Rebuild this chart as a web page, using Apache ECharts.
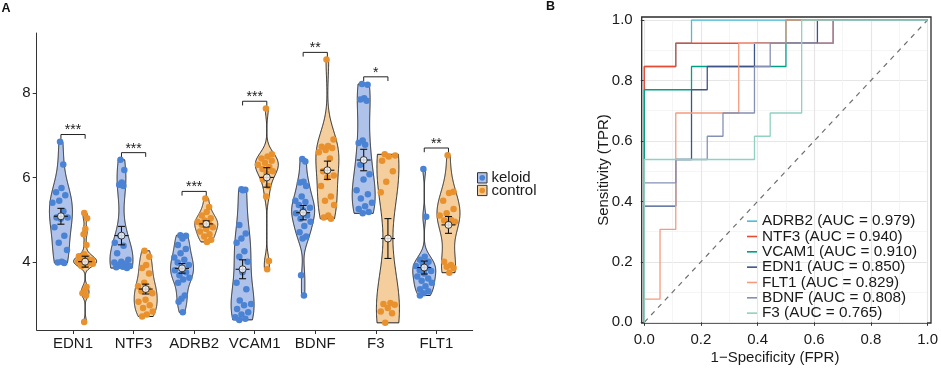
<!DOCTYPE html>
<html><head><meta charset="utf-8">
<script src="https://cdn.jsdelivr.net/npm/echarts@6/dist/echarts.min.js"></script>
<style>html,body{margin:0;padding:0;background:#fff}#c{width:941px;height:369px}</style>
</head><body><div id="c"></div>
<script>
// ---------------- DATA (panel A) ----------------
const genes = ['EDN1','NTF3','ADRB2','VCAM1','BDNF','F3','FLT1'];
const groups = ['keloid','control'];
const yTicksA = [4, 6, 8];
const keloidEDN1 = [6.85, 6.31, 5.75, 5.65, 5.58, 5.45, 5.4, 5.2, 5.05, 5.05, 5.02, 4.82, 4.62, 4.45, 4.28, 4.0, 3.98, 3.97];
const controlEDN1 = [5.16, 5.03, 4.78, 4.65, 4.4, 4.18, 4.13, 4.1, 4.07, 4.04, 4.02, 4.0, 3.99, 3.97, 3.95, 3.93, 3.9, 3.4, 3.32, 3.25, 3.2, 2.57];
const keloidNTF3 = [6.42, 6.18, 5.88, 5.83, 5.8, 4.62, 4.45, 4.38, 4.2, 4.05, 4.0, 3.98, 3.95, 3.93, 3.9, 3.88, 3.87, 3.85];
const controlNTF3 = [4.26, 4.12, 3.92, 3.85, 3.72, 3.5, 3.42, 3.35, 3.3, 3.25, 3.1, 3.05, 2.97, 2.9, 2.82, 2.75, 2.7];
const keloidADRB2 = [4.63, 4.62, 4.55, 4.4, 4.3, 4.2, 4.1, 4.05, 3.98, 3.92, 3.85, 3.8, 3.75, 3.68, 3.62, 3.58, 3.5, 3.2, 3.12, 3.05, 2.8];
const controlADRB2 = [5.5, 5.3, 5.18, 5.1, 5.03, 4.98, 4.95, 4.9, 4.88, 4.82, 4.78, 4.72, 4.65, 4.6, 4.52, 4.47];
const keloidVCAM1 = [5.72, 5.71, 5.7, 4.87, 4.67, 4.55, 4.45, 4.25, 4.12, 4.0, 3.75, 3.5, 3.35, 3.08, 3.0, 2.97, 2.88, 2.8, 2.75, 2.68, 2.65, 2.62];
const controlVCAM1 = [7.64, 6.55, 6.5, 6.45, 6.4, 6.35, 6.3, 6.25, 6.2, 6.15, 6.1, 5.95, 5.8, 5.55, 4.02, 3.82];
const keloidBDNF = [6.44, 6.38, 5.9, 5.88, 5.8, 5.55, 5.45, 5.42, 5.35, 5.28, 5.22, 5.15, 5.1, 5.02, 4.95, 4.85, 4.7, 4.6, 4.55, 3.68, 3.2];
const controlBDNF = [8.8, 6.9, 6.75, 6.73, 6.7, 6.65, 6.6, 6.45, 6.15, 6.05, 6.0, 5.8, 5.55, 5.45, 5.35, 5.1, 5.05, 5.02];
const keloidF3 = [8.22, 8.2, 7.88, 7.85, 7.82, 6.88, 6.82, 6.78, 6.3, 6.08, 5.95, 5.7, 5.6, 5.5, 5.4, 5.32, 5.25, 5.18, 5.15];
const controlF3 = [6.55, 6.52, 6.5, 6.4, 6.15, 5.9, 5.65, 3.02, 3.0, 2.98, 2.9, 2.82, 2.78, 2.55];
const keloidFLT1 = [6.2, 5.07, 4.12, 4.05, 4.0, 3.95, 3.9, 3.85, 3.8, 3.78, 3.72, 3.65, 3.6, 3.55, 3.5, 3.42, 3.35, 3.3, 3.25, 3.2];
const controlFLT1 = [6.53, 5.66, 5.63, 5.45, 5.25, 5.15, 5.1, 5.0, 4.98, 4.95, 4.9, 4.0, 3.92, 3.88, 3.85, 3.74];
const sigLabels = ['***','***','***','***','**','*','**'];

// ---------------- DATA (panel B) ----------------
const rocNames = ['ADRB2','NTF3','VCAM1','EDN1','FLT1','BDNF','F3'];
const aucLabels = ['0.979','0.940','0.910','0.850','0.829','0.808','0.765'];
const nNeg = 18, nPos = 13;
const fprADRB2 = [0,0,2,2,3,3,18];            const tprADRB2 = [0,11,11,12,12,13,13];
const fprNTF3  = [0,0,2,2,12,12,18];          const tprNTF3  = [0,11,11,12,12,13,13];
const fprVCAM1 = [0,0,3,3,9,9,18];            const tprVCAM1 = [0,10,10,11,11,13,13];
const fprEDN1  = [0,0,2,2,3,3,4,4,7,7,11,11,18]; const tprEDN1 = [0,5,5,7,7,10,10,11,11,12,12,13,13];
const fprFLT1  = [0,0,1,1,2,2,6,6,9,9,18];    const tprFLT1  = [0,1,1,4,4,9,9,12,12,13,13];
const fprBDNF  = [0,0,2,2,4,4,5,5,7,7,8,8,12,12,18]; const tprBDNF = [0,6,6,7,7,8,8,9,9,11,11,12,12,13,13];
const fprF3    = [0,0,7,7,8,8,10,10,18];      const tprF3    = [0,7,7,8,8,9,9,13,13];

// ---------------- build ----------------
const keloidData = [keloidEDN1, keloidNTF3, keloidADRB2, keloidVCAM1, keloidBDNF, keloidF3, keloidFLT1];
const controlData = [controlEDN1, controlNTF3, controlADRB2, controlVCAM1, controlBDNF, controlF3, controlFLT1];
const allData = [keloidData, controlData];
const rocFPR = [fprADRB2, fprNTF3, fprVCAM1, fprEDN1, fprFLT1, fprBDNF, fprF3];
const rocTPR = [tprADRB2, tprNTF3, tprVCAM1, tprEDN1, tprFLT1, tprBDNF, tprF3];
const rocColors = ['#4DBBD5','#E64B35','#00A087','#3C5488','#F39B7F','#8491B4','#91D1C2'];

const ptColors = ['#4A82D4', '#E8912D'];
const fillColors = ['#AFC2EA', '#F5CE9E'];
const DODGE = 0.2, W = 0.19;

function quant(s, p){ const h=(s.length-1)*p, lo=Math.floor(h), hi=Math.min(lo+1,s.length-1); return s[lo]+(h-lo)*(s[hi]-s[lo]); }
function meanOf(a){ return a.reduce((x,y)=>x+y,0)/a.length; }
function sdOf(a){ const m=meanOf(a); return Math.sqrt(a.reduce((x,y)=>x+(y-m)*(y-m),0)/(a.length-1)); }
function bwNrd0(s){ const sd=sdOf(s), iqr=quant(s,0.75)-quant(s,0.25); let lo=Math.min(sd, iqr/1.34); if(!(lo>0)) lo = sd || 1; return 0.9*lo*Math.pow(s.length,-0.2); }
function profileOf(vals){
  const s=[...vals].sort((a,b)=>a-b), bw=bwNrd0(s), lo=s[0], hi=s[s.length-1], N=200;
  const out=[]; let mx=0;
  for(let k=0;k<=N;k++){ const y=lo+(hi-lo)*k/N; let d=0; for(const v of s){ const z=(y-v)/bw; d+=Math.exp(-0.5*z*z);} out.push([y,d]); if(d>mx) mx=d; }
  out.forEach(p=>p[1]/=mx); return out;
}
function densAt(prof, y){
  let best=prof[0][1], bd=1e9; for(const p of prof){ const dd=Math.abs(p[0]-y); if(dd<bd){bd=dd;best=p[1];} } return best;
}
const profiles = allData.map(g => g.map(profileOf));

const violinItems = [], errItems = [], meanPts = [[],[]], scatterPts = [[],[]];
for (let ci=0; ci<2; ci++) for (let gi=0; gi<genes.length; gi++) {
  const vals = allData[ci][gi], xc = gi+1+(ci===0?-DODGE:DODGE);
  const m = meanOf(vals), se = sdOf(vals)/Math.sqrt(vals.length);
  violinItems.push([xc, m, ci, gi]);
  errItems.push([xc, m, se]);
  meanPts[ci].push([xc, m]);
  vals.forEach((v,i)=>{ const j=((i*0.618034+0.31)%1)*2-1; scatterPts[ci].push([xc + j*0.8*W*Math.max(0.25,densAt(profiles[ci][gi], v)), v]); });
}
const bracketItems = genes.map((g,gi)=>[gi+1, Math.max(...keloidData[gi], ...controlData[gi]) + 0.17, gi]);

const chart = echarts.init(document.getElementById('c'), null, {renderer:'canvas'});
const FONT = 'Liberation Sans, Arial, sans-serif';
const TXT = '#1a1a1a';

const series = [];
series.push({
  type:'custom', xAxisIndex:0, yAxisIndex:0, z:2, data: violinItems,
  renderItem(params, api){
    const xc=api.value(0), ci=api.value(2), gi=api.value(3), prof=profiles[ci][gi];
    const pts=[];
    for(const [y,d] of prof) pts.push(api.coord([xc+d*W, y]));
    for(let k=prof.length-1;k>=0;k--) pts.push(api.coord([xc-prof[k][1]*W, prof[k][0]]));
    return {type:'polygon', shape:{points:pts}, style:{fill:fillColors[ci], stroke:'#222', lineWidth:1}};
  }
});
for (let ci=0; ci<2; ci++) series.push({
  type:'scatter', name: groups[ci], xAxisIndex:0, yAxisIndex:0, z:3, data: scatterPts[ci],
  symbolSize: 6.5, itemStyle:{color: ptColors[ci], opacity:1}, silent:true
});
series.push({
  type:'custom', xAxisIndex:0, yAxisIndex:0, z:4, data: errItems,
  renderItem(params, api){
    const xc=api.value(0), m=api.value(1), se=api.value(2);
    const top=api.coord([xc, m+se]), bot=api.coord([xc, m-se]), mid=api.coord([xc, m]);
    const st={stroke:'#111', lineWidth:1.1};
    return {type:'group', children:[
      {type:'line', shape:{x1:top[0],y1:top[1],x2:bot[0],y2:bot[1]}, style:st},
      {type:'line', shape:{x1:top[0]-3.5,y1:top[1],x2:top[0]+3.5,y2:top[1]}, style:st},
      {type:'line', shape:{x1:bot[0]-3.5,y1:bot[1],x2:bot[0]+3.5,y2:bot[1]}, style:st},
      {type:'line', shape:{x1:mid[0]-7,y1:mid[1],x2:mid[0]+7,y2:mid[1]}, style:st}
    ]};
  }
});
for (let ci=0; ci<2; ci++) series.push({
  type:'scatter', xAxisIndex:0, yAxisIndex:0, z:5, data: meanPts[ci], symbolSize:7,
  itemStyle:{color:'#fff', borderColor:'#111', borderWidth:1}, silent:true
});
series.push({
  type:'custom', xAxisIndex:0, yAxisIndex:0, z:5, data: bracketItems,
  renderItem(params, api){
    const xc=api.value(0), y=api.value(1), gi=api.value(2);
    const a=api.coord([xc-DODGE, y]), b=api.coord([xc+DODGE, y]);
    const a2=api.coord([xc-DODGE, y-0.1]), b2=api.coord([xc+DODGE, y-0.1]);
    return {type:'group', children:[
      {type:'polyline', shape:{points:[a2,a,b,b2]}, style:{stroke:'#222', lineWidth:1, fill:null}},
      {type:'text', style:{text:sigLabels[gi], x:(a[0]+b[0])/2, y:a[1]+3, align:'center', verticalAlign:'bottom', fontSize:14, fontFamily:FONT, fill:TXT}}
    ]};
  }
});
// panel B
series.push({
  type:'line', xAxisIndex:2, yAxisIndex:2, data:[[0,0],[1,1]], showSymbol:false, silent:true,
  lineStyle:{color:'#6f6f6f', width:1.2, type:[5,5]}, z:2
});
rocNames.forEach((n,i)=>{
  series.push({
    type:'line', name:`${n} (AUC = ${aucLabels[i]})`, xAxisIndex:2, yAxisIndex:2,
    data: rocFPR[i].map((f,k)=>[f/nNeg, rocTPR[i][k]/nPos]),
    showSymbol:false, silent:true, color: rocColors[i],
    lineStyle:{color:rocColors[i], width:1.3}, z:3
  });
});

const option = {
  animation:false,
  textStyle:{fontFamily:FONT},
  grid:[
    {left:36.7, top:33, width:436, height:297, containLabel:false},
    {left:641.7, top:17, width:289.3, height:306, show:true, borderColor:'#2b2b2b', borderWidth:1.3, backgroundColor:'transparent'},
    {left:644.3, top:20, width:285.7, height:302.3}
  ],
  xAxis:[
    {gridIndex:0, type:'value', min:0.4, max:7.6, splitLine:{show:false},
     axisLine:{show:true, onZero:false, lineStyle:{color:'#333', width:1}},
     axisTick:{show:true, length:4, customValues:genes.map((g,i)=>i+1), lineStyle:{color:'#333'}},
     axisLabel:{customValues:genes.map((g,i)=>i+1), formatter:v=>genes[Math.round(v)-1], fontSize:15, color:TXT, margin:6, fontFamily:FONT}},
    {gridIndex:1, type:'value', min:0, max:1, show:false},
    {gridIndex:2, type:'value', min:0, max:1, interval:0.2, offset:0.7,
     axisLine:{show:false}, axisTick:{show:true, length:3.5, lineStyle:{color:'#333'}},
     axisLabel:{fontSize:15, color:TXT, margin:9, fontFamily:FONT, formatter:v=>v.toFixed(1)},
     splitLine:{show:true, lineStyle:{color:'#E6E6E6', width:1.2}},
     minorTick:{show:false, splitNumber:2}, minorSplitLine:{show:true, lineStyle:{color:'#F2F2F2', width:0.8}}}
  ],
  yAxis:[
    {gridIndex:0, type:'value', min:2.38, max:9.43, splitLine:{show:false},
     axisLine:{show:true, onZero:false, lineStyle:{color:'#333', width:1}},
     axisTick:{show:true, length:4, customValues:yTicksA, lineStyle:{color:'#333'}},
     axisLabel:{customValues:yTicksA, fontSize:15, color:TXT, margin:6, fontFamily:FONT}},
    {gridIndex:1, type:'value', min:0, max:1, show:false},
    {gridIndex:2, type:'value', min:0, max:1, interval:0.2, offset:2.6,
     axisLine:{show:false}, axisTick:{show:true, length:3.5, lineStyle:{color:'#333'}},
     axisLabel:{fontSize:15, color:TXT, margin:9, fontFamily:FONT, formatter:v=>v.toFixed(1)},
     splitLine:{show:true, lineStyle:{color:'#E6E6E6', width:1.2}},
     minorTick:{show:false, splitNumber:2}, minorSplitLine:{show:true, lineStyle:{color:'#F2F2F2', width:0.8}}}
  ],
  legend:{
    show:true, orient:'vertical', left:747, top:213.5, padding:0, itemGap:0,
    icon:'rect', itemWidth:10, itemHeight:1.6,
    data: rocNames.map((n,i)=>`${n} (AUC = ${aucLabels[i]})`),
    textStyle:{fontSize:15.3, color:TXT, fontFamily:FONT, lineHeight:15.33, padding:[0,0,0,0]},
    selectedMode:false
  },
  graphic:[
    {type:'text', left:1.5, top:2.5, style:{text:'A', fontSize:12.5, fontWeight:'bold', fill:'#111', fontFamily:FONT}},
    {type:'text', left:546, top:0.3, style:{text:'B', fontSize:12.5, fontWeight:'bold', fill:'#111', fontFamily:FONT}},
    {type:'rect', shape:{x:477.5, y:172.7, width:9.5, height:10.3}, style:{fill:fillColors[0], stroke:'#333', lineWidth:1}},
    {type:'circle', shape:{cx:482.25, cy:177.85, r:2.8}, style:{fill:ptColors[0]}},
    {type:'rect', shape:{x:477.5, y:185.3, width:9.5, height:10.3}, style:{fill:fillColors[1], stroke:'#333', lineWidth:1}},
    {type:'circle', shape:{cx:482.25, cy:190.45, r:2.8}, style:{fill:ptColors[1]}},
    {type:'text', x:491.5, y:178, style:{text:groups[0], fontSize:15, fill:TXT, fontFamily:FONT, verticalAlign:'middle'}},
    {type:'text', x:491.5, y:190.6, style:{text:groups[1], fontSize:15, fill:TXT, fontFamily:FONT, verticalAlign:'middle'}},
    {type:'text', x:775, y:358.3, style:{text:'1\u2212Specificity (FPR)', fontSize:15, fill:TXT, fontFamily:FONT, align:'center', verticalAlign:'middle'}},
    {type:'text', x:603.5, y:170, rotation:Math.PI/2, style:{text:'Sensitivity (TPR)', fontSize:15, fill:TXT, fontFamily:FONT, align:'center', verticalAlign:'middle'}}
  ],
  series
};
chart.setOption(option);
</script></body></html>
